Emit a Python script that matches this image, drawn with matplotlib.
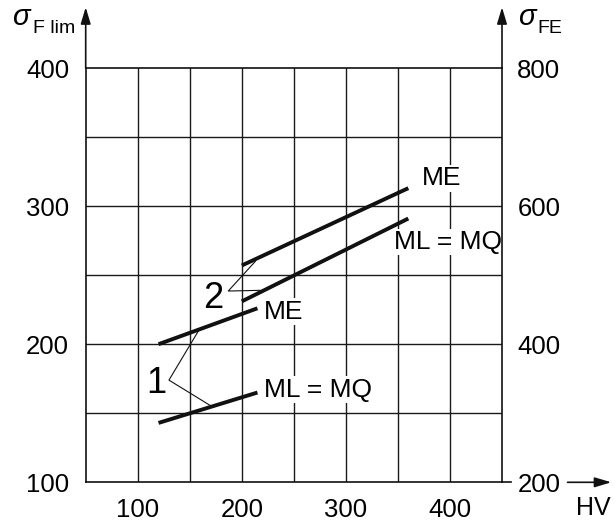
import matplotlib
matplotlib.use("Agg")
import matplotlib.pyplot as plt

plt.rcParams['font.family'] = ['Liberation Sans', 'DejaVu Sans']

# line segments (HV, sigma_F lim)
hv_1 = [120, 215]
ml_mq_1 = [143, 165]
me_1 = [200, 226]
hv_2 = [200, 360]
ml_mq_2 = [231, 291]
me_2 = [257, 313]

# leader lines for the "1" / "2" markers
lead_1_x = [159, 130, 171]
lead_1_y = [210.5, 174, 155]
lead_2_x = [213, 187, 217.5]
lead_2_y = [260, 238.5, 239]

x_ticks = [100, 200, 300, 400]
y_ticks = [100, 200, 300, 400]
y2_ticks = [200, 400, 600, 800]

fig = plt.figure(figsize=(6.15, 5.24), dpi=100)
ax = fig.add_axes([85.7 / 615, 1 - 482.3 / 524, 416.3 / 615, 414.3 / 524])
ax.set_xlim(50, 450)
ax.set_ylim(100, 400)

# grid
for gx in range(100, 450, 50):
    ax.axvline(gx, color='#1a1a1a', lw=1.0, zorder=1)
for gy in range(150, 400, 50):
    ax.axhline(gy, color='#1a1a1a', lw=1.0, zorder=1)

for s in ax.spines.values():
    s.set_linewidth(1.2)
    s.set_color('#111111')

ax.set_xticks(x_ticks)
ax.set_yticks(y_ticks)
ax.tick_params(length=0, labelsize=18.5, pad=11)
ax.tick_params(axis='y', pad=12)

ax2 = ax.twinx()
ax2.set_ylim(200, 800)
ax2.set_yticks(y2_ticks)
ax2.tick_params(length=0, labelsize=18.5, pad=11)
for s in ax2.spines.values():
    s.set_visible(False)

# data lines
kw = dict(color='#111111', lw=2.8, solid_capstyle='butt', zorder=3)
ax.plot(hv_1, ml_mq_1, **kw)
ax.plot(hv_1, me_1, **kw)
ax.plot(hv_2, ml_mq_2, **kw)
ax.plot(hv_2, me_2, **kw)

ax.plot(lead_1_x, lead_1_y, color='#111111', lw=0.8, zorder=3)
ax.plot(lead_2_x, lead_2_y, color='#111111', lw=0.8, zorder=3)

box = dict(facecolor='white', edgecolor='none', pad=1)
ax.text(221, 223.5, 'ME', fontsize=19, va='center', ha='left', bbox=box, zorder=2)
ax.text(221, 167, 'ML = MQ', fontsize=19, va='center', ha='left', bbox=box, zorder=2)
ax.text(373, 320, 'ME', fontsize=19, va='center', ha='left', bbox=box, zorder=2)
ax.text(346, 274, 'ML = MQ', fontsize=19, va='center', ha='left', bbox=box, zorder=2)
ax.text(118, 171.5, '1', fontsize=26, va='center', ha='center', zorder=2)
ax.text(172.5, 233, '2', fontsize=26, va='center', ha='center', zorder=2)

# axis arrows
arr = dict(arrowstyle='-|>,head_length=1.0,head_width=0.3', mutation_scale=10,
           color='#111111', lw=1.2, shrinkA=0, shrinkB=0)
ax.annotate('', xy=(50, 444), xytext=(50, 400), arrowprops=arr, annotation_clip=False)
ax.annotate('', xy=(450, 444), xytext=(450, 400), arrowprops=arr, annotation_clip=False)
ax.plot([450, 459], [100, 100], color='#111111', lw=1.2, clip_on=False)
ax.annotate('', xy=(555, 100), xytext=(513, 100), arrowprops=arr, annotation_clip=False)

# axis titles
ax.text(554.5, 81.5, 'HV', fontsize=18, ha='right', va='center', clip_on=False)
fig.text(12 / 615, 1 - 25 / 524, '\u03c3', fontsize=21, style='italic', ha='left', va='baseline')
fig.text(33 / 615, 1 - 33 / 524, 'F lim', fontsize=14, ha='left', va='baseline')
fig.text(518 / 615, 1 - 25 / 524, '\u03c3', fontsize=21, style='italic', ha='left', va='baseline')
fig.text(537 / 615, 1 - 33 / 524, 'FE', fontsize=14, ha='left', va='baseline')

fig.savefig('out.png', dpi=100)
